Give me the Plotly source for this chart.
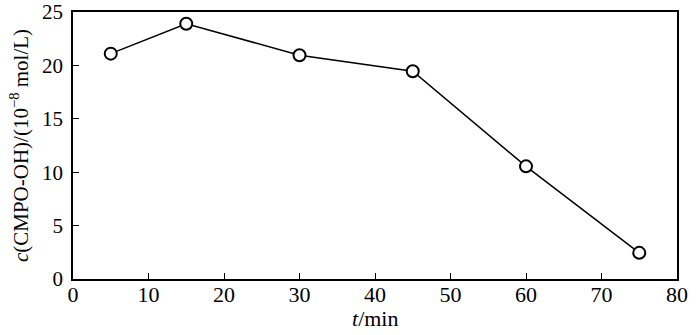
import plotly.graph_objects as go

t_min = [5, 15, 30, 45, 60, 75]
c_cmpo_oh = [21.1, 23.9, 20.95, 19.45, 10.55, 2.45]
x_ticks = [0, 10, 20, 30, 40, 50, 60, 70, 80]
y_ticks = [0, 5, 10, 15, 20, 25]

fam = "Liberation Serif"
xfont = dict(family=fam, size=22, color="black")
yfont = dict(family=fam, size=21, color="black")

fig = go.Figure()
fig.add_trace(go.Scatter(
    x=t_min, y=c_cmpo_oh, mode="lines+markers",
    line=dict(color="black", width=1.5),
    marker=dict(symbol="circle", size=12, color="white", line=dict(color="black", width=2)),
    cliponaxis=False, showlegend=False,
))

axis_common = dict(
    showgrid=False, zeroline=False, showline=True, linecolor="black", linewidth=1.5,
    mirror=True, ticks="inside", ticklen=6, tickwidth=1.2, tickcolor="black",
    automargin=False,
)
fig.update_xaxes(range=[0, 80], tickvals=x_ticks, ticktext=[str(v) for v in x_ticks],
                 tickfont=xfont, ticklabelstandoff=-5, **axis_common)
fig.update_yaxes(range=[0, 25], tickvals=y_ticks, ticktext=[str(v) for v in y_ticks],
                 tickfont=yfont, ticklabelstandoff=4,
                 title=dict(text="<i>c</i>(CMPO-OH)/(10<sup>−8</sup> mol/L)", font=yfont, standoff=8),
                 **axis_common)

fig.add_annotation(text="<i>t</i>/min", xref="paper", yref="paper", x=0.5, y=-0.148,
                   xanchor="center", yanchor="middle", showarrow=False, font=xfont)

fig.update_layout(
    width=700, height=335,
    margin=dict(l=73, r=23, t=12, b=56, autoexpand=False),
    paper_bgcolor="white", plot_bgcolor="white",
    font=yfont,
)
fig.write_html("out.html")
